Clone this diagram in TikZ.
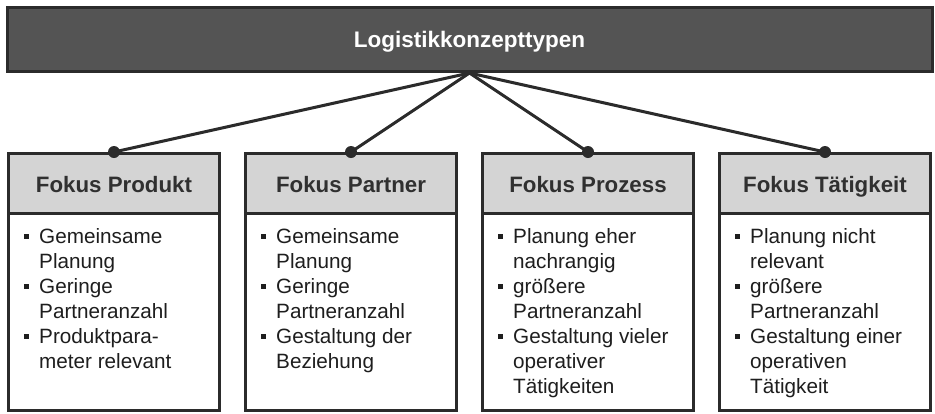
\documentclass[tikz,border=0pt]{standalone}
\usepackage{fontspec}
\setmainfont{Liberation Sans}
\definecolor{edge}{HTML}{2B2B2B}
\definecolor{topgray}{HTML}{545454}
\definecolor{headgray}{HTML}{D4D4D4}
\definecolor{headtext}{HTML}{303030}
\definecolor{bodyink}{HTML}{1E1E1E}
% bullet item start and continuation indent
\newcommand\bitem{\makebox[15pt][l]{\rule[4.7pt]{4.6pt}{4.6pt}}}
\newcommand\bcont{\hspace*{15pt}}
\begin{document}
\begin{tikzpicture}[x=1pt,y=-1pt,
  topbox/.style={draw=edge, line width=3pt, fill=topgray, minimum width=925pt,
    minimum height=64pt, inner sep=0pt, text=white,
    font=\fontsize{22.5}{27}\selectfont\bfseries, text height=15.4pt, text depth=0pt},
  headbox/.style={draw=edge, line width=3pt, fill=headgray, minimum width=211pt,
    minimum height=60pt, inner sep=0pt, text=headtext,
    font=\fontsize{22.3}{27}\selectfont\bfseries, text height=18pt, text depth=0pt},
  bodybox/.style={draw=edge, line width=3pt, fill=white, minimum width=211pt,
    minimum height=197pt, inner sep=0pt},
  bodytext/.style={anchor=north west, inner sep=0pt, align=left, text=bodyink,
    font=\fontsize{20.7}{25}\selectfont},
  link/.style={draw=edge, line width=3pt},
  joint/.style={fill=edge, circle, inner sep=0pt, minimum size=12pt}]
\useasboundingbox (0,0) rectangle (935,413);

% root
\node[topbox] (root) at (469.5,39.5) {Logistikkonzepttypen};

% four concept columns
\foreach \i/\cx/\title in {1/114/Fokus Produkt, 2/351/Fokus Partner,
                           3/588/Fokus Prozess, 4/825/Fokus Tätigkeit}{
  \node[bodybox] (b\i) at (\cx,312) {};
  \node[headbox] (h\i) at (\cx,183.5) {\title};
}

% bullet lists
\node[bodytext] (t1) at (24,225.5) {\strut\bitem Gemeinsame\\ \bcont Planung\\
  \bitem Geringe\\ \bcont Partneranzahl\\ \bitem Produktpara-\\ \bcont meter relevant};
\node[bodytext] (t2) at (261,225.5) {\strut\bitem Gemeinsame\\ \bcont Planung\\
  \bitem Geringe\\ \bcont Partneranzahl\\ \bitem Gestaltung der\\ \bcont Beziehung};
\node[bodytext] (t3) at (498,225.5) {\strut\bitem Planung eher\\ \bcont nachrangig\\
  \bitem größere\\ \bcont Partneranzahl\\ \bitem Gestaltung vieler\\ \bcont operativer\\
  \bcont Tätigkeiten};
\node[bodytext] (t4) at (735,225.5) {\strut\bitem Planung nicht\\ \bcont relevant\\
  \bitem größere\\ \bcont Partneranzahl\\ \bitem Gestaltung einer\\ \bcont operativen\\
  \bcont Tätigkeit};

% connectors from the root to each column
\foreach \i in {1,...,4}{
  \draw[link] (root.south) -- (h\i.north);
  \node[joint] (j\i) at (h\i.north) {};
}
\end{tikzpicture}
\end{document}
